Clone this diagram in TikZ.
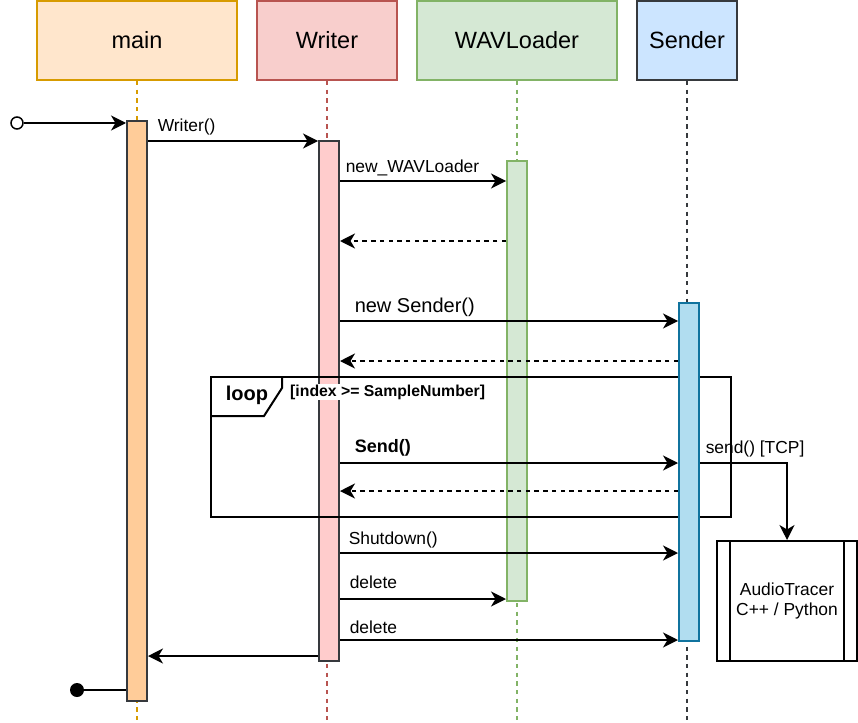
\documentclass[tikz,border=0pt]{standalone}
\usepackage{fontspec}
\setmainfont{Liberation Sans}
\usepackage{tikz}
\usetikzlibrary{positioning,arrows.meta,calc}
\usepackage{xcolor}
\definecolor{mainfill}{HTML}{FFE6CC}
\definecolor{mainline}{HTML}{D79B00}
\definecolor{writerfill}{HTML}{F8CECC}
\definecolor{writerline}{HTML}{B85450}
\definecolor{loaderfill}{HTML}{D5E8D4}
\definecolor{loaderline}{HTML}{82B366}
\definecolor{senderfill}{HTML}{CCE5FF}
\definecolor{darkline}{HTML}{36393D}
\definecolor{mainbarfill}{HTML}{FFCC99}
\definecolor{writerbarfill}{HTML}{FFCCCC}
\definecolor{senderbarfill}{HTML}{B1DDF0}
\definecolor{senderbarline}{HTML}{10739E}

\tikzset{
  header/.style={rectangle,line width=2pt,minimum height=79pt,inner sep=0pt,
    font=\fontsize{23.5}{26}\selectfont},
  lifeline/.style={line width=1.5pt,dash pattern=on 4.35pt off 4.35pt},
  actbar/.style={rectangle,line width=2pt,minimum width=20pt,inner sep=0pt},
  msg/.style={-{Stealth[length=15pt,width=15pt,inset=4.5pt]},line width=1.5pt},
  reply/.style={msg,dash pattern=on 4.35pt off 4.35pt},
  msglabel/.style={anchor=base west,inner sep=0pt,font=\fontsize{17.4}{20}\selectfont},
}

\begin{document}
\begin{tikzpicture}[x=1pt,y=-1pt]
\useasboundingbox (0,0) rectangle (858,722);

% participants
\node[header,draw=mainline,fill=mainfill,minimum width=200pt] (main) at (137,40.5) {main};
\node[header,draw=writerline,fill=writerfill,minimum width=140pt] (writer) at (327,40.5) {Writer};
\node[header,draw=loaderline,fill=loaderfill,minimum width=200pt] (loader) at (517,40.5) {WAVLoader};
\node[header,draw=darkline,fill=senderfill,minimum width=100pt] (sender) at (687,40.5) {Sender};

% lifelines
\coordinate (bottom) at (0,722);
\draw[lifeline,mainline] (main.south) -- (main.south |- bottom);
\draw[lifeline,writerline] (writer.south) -- (writer.south |- bottom);
\draw[lifeline,loaderline] (loader.south) -- (loader.south |- bottom);
\draw[lifeline,darkline] (sender.south) -- (sender.south |- bottom);

% activation bars
\node[actbar,draw=darkline,fill=mainbarfill,minimum height=580pt] (mainbar) at (137,411) {};
\node[actbar,draw=darkline,fill=writerbarfill,minimum height=520pt] (writerbar) at (329,401) {};
\node[actbar,draw=loaderline,fill=loaderfill,minimum height=440pt] (loaderbar) at (517,381) {};

% loop fragment
\node[draw,line width=2pt,minimum width=520pt,minimum height=140pt,inner sep=0pt] (loopframe) at (471,447) {};
\draw[line width=2pt] (loopframe.north west) ++(72,0) -- ++(0,12) -- ++(-18,28) -- ++(-54,0);
\node[anchor=base,font=\bfseries\fontsize{20}{22}\selectfont] (looplabel) at (247,400) {loop};
\node[anchor=base west,inner sep=1pt,fill=white,font=\bfseries\fontsize{15.8}{18}\selectfont] (guard) at (289,396) {[index >= SampleNumber]};

\node[actbar,draw=senderbarline,fill=senderbarfill,minimum height=338pt] (senderbar) at (689,472) {};

% external process
\node[draw,line width=2pt,minimum width=140pt,minimum height=120pt,align=center,
  font=\fontsize{17.4}{20}\selectfont] (tracer) at (787,601) {AudioTracer\\C++ / Python};
\draw[line width=2pt] ($(tracer.north west)+(14,0)$) -- ($(tracer.south west)+(14,0)$);
\draw[line width=2pt] ($(tracer.north east)+(-14,0)$) -- ($(tracer.south east)+(-14,0)$);

% message rows
\coordinate (r1) at (0,141);
\coordinate (r2) at (0,181);
\coordinate (r3) at (0,241);
\coordinate (r4) at (0,321);
\coordinate (r5) at (0,361);
\coordinate (r6) at (0,463);
\coordinate (r7) at (0,491);
\coordinate (r8) at (0,553);
\coordinate (r9) at (0,599);
\coordinate (r10) at (0,640);
\coordinate (r11) at (0,656);

% messages
\node[circle,draw,line width=1.5pt,fill=white,minimum size=12pt,inner sep=0pt] (init) at (17,123) {};
\draw[msg] (init) -- (mainbar.west |- init);
\draw[msg] (mainbar.east |- r1) -- node[msglabel,pos=0,xshift=9pt,yshift=9pt] {Writer()} (writerbar.west |- r1);
\draw[msg] (writerbar.east |- r2) -- node[msglabel,pos=0,xshift=5pt,yshift=9pt] {new\_WAVLoader} (loaderbar.west |- r2);
\draw[reply] (loaderbar.west |- r3) -- (writerbar.east |- r3);
\draw[msg] (writerbar.east |- r4) -- node[msglabel,pos=0,xshift=14pt,yshift=9pt,font=\fontsize{20}{22}\selectfont] {new Sender()} (senderbar.west |- r4);
\draw[reply] (senderbar.west |- r5) -- (writerbar.east |- r5);
\draw[msg] (writerbar.east |- r6) -- node[msglabel,pos=0,xshift=14pt,yshift=11pt,font=\bfseries\fontsize{18}{20}\selectfont] {Send()} (senderbar.west |- r6);
\draw[msg] (senderbar.east |- r6) -| node[msglabel,pos=0,xshift=5pt,yshift=10pt] {send() [TCP]} (tracer.north);
\draw[reply] (senderbar.west |- r7) -- (writerbar.east |- r7);
\draw[msg] (writerbar.east |- r8) -- node[msglabel,pos=0,xshift=8pt,yshift=9pt] {Shutdown()} (senderbar.west |- r8);
\draw[msg] (writerbar.east |- r9) -- node[msglabel,pos=0,xshift=9pt,yshift=11pt] {delete} (loaderbar.west |- r9);
\draw[msg] (writerbar.east |- r10) -- node[msglabel,pos=0,xshift=9pt,yshift=7pt] {delete} (senderbar.west |- r10);
\draw[msg] (writerbar.west |- r11) -- (mainbar.east |- r11);
\node[circle,fill=black,minimum size=14pt,inner sep=0pt] (stop) at (77,690) {};
\draw[line width=1.5pt] (mainbar.west |- stop) -- (stop);
\end{tikzpicture}
\end{document}
